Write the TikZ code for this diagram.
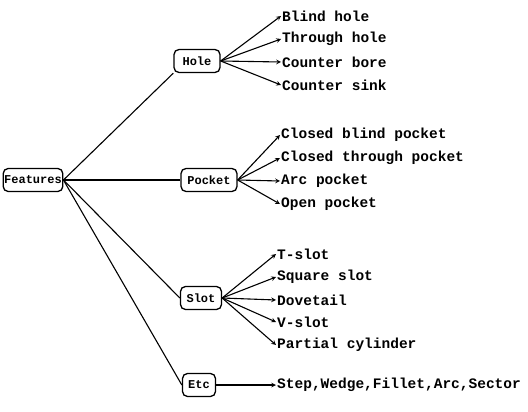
\documentclass[tikz,border=0pt]{standalone}
\usepackage{fontspec}
\setmonofont{Liberation Mono}
\usetikzlibrary{arrows, shapes}

\begin{document}
\begin{tikzpicture}[x=1pt, y=-1pt]
    \tikzstyle{box} = [draw, line width=1.3pt, rounded corners=5pt, inner sep=1pt, minimum height=23pt,
                       font=\fontsize{12}{12}\ttfamily\bfseries]
    \tikzstyle{leaf} = [anchor=west, inner sep=1pt, font=\fontsize{14.5}{14}\ttfamily\bfseries]
    \tikzstyle{link} = [line width=1.1pt, ->, >=stealth]
    \useasboundingbox (0, 0) rectangle (528, 412);

    \node [box, minimum width=58pt] (features) at (33, 180) {Features};
    \node [box, minimum width=46pt] (hole) at (197, 61) {Hole};
    \node [box, minimum width=56pt] (pocket) at (209, 180) {Pocket};
    \node [box, minimum width=41pt] (slot) at (201, 298) {Slot};
    \node [box, minimum width=33pt] (etc) at (199, 385) {Etc};

    \draw [line width=1.1pt] (features.east) -- (hole.south west);
    \draw [line width=1.1pt] (features.east) -- (pocket.west);
    \draw [line width=1.1pt] (features.east) -- (slot.west);
    \draw [line width=1.1pt] (features.east) -- (etc.west);

    % hole features
    \foreach \i/\y/\txt in {1/16/Blind hole, 2/39/Through hole, 3/62/Counter bore, 4/85/Counter sink} {
        \node [leaf] (hole-\i) at (281, \y) {\txt};
        \draw [link] (hole.east) -- (hole-\i.west);
    }
    % pocket features
    \foreach \i/\y/\txt in {1/135/Closed blind pocket, 2/158/Closed through pocket, 3/181/Arc pocket, 4/204/Open pocket} {
        \node [leaf] (pocket-\i) at (280, \y) {\txt};
        \draw [link] (pocket.east) -- (pocket-\i.west);
    }
    % slot features
    \foreach \i/\y/\txt in {1/254/T-slot, 2/277/Square slot, 3/300/Dovetail, 4/322/V-slot, 5/345/Partial cylinder} {
        \node [leaf] (slot-\i) at (276, \y) {\txt};
        \draw [link] (slot.east) -- (slot-\i.west);
    }
    \node [leaf] (etc-1) at (276, 385) {Step,Wedge,Fillet,Arc,Sector};
    \draw [link] (etc.east) -- (etc-1.west);
\end{tikzpicture}
\end{document}
